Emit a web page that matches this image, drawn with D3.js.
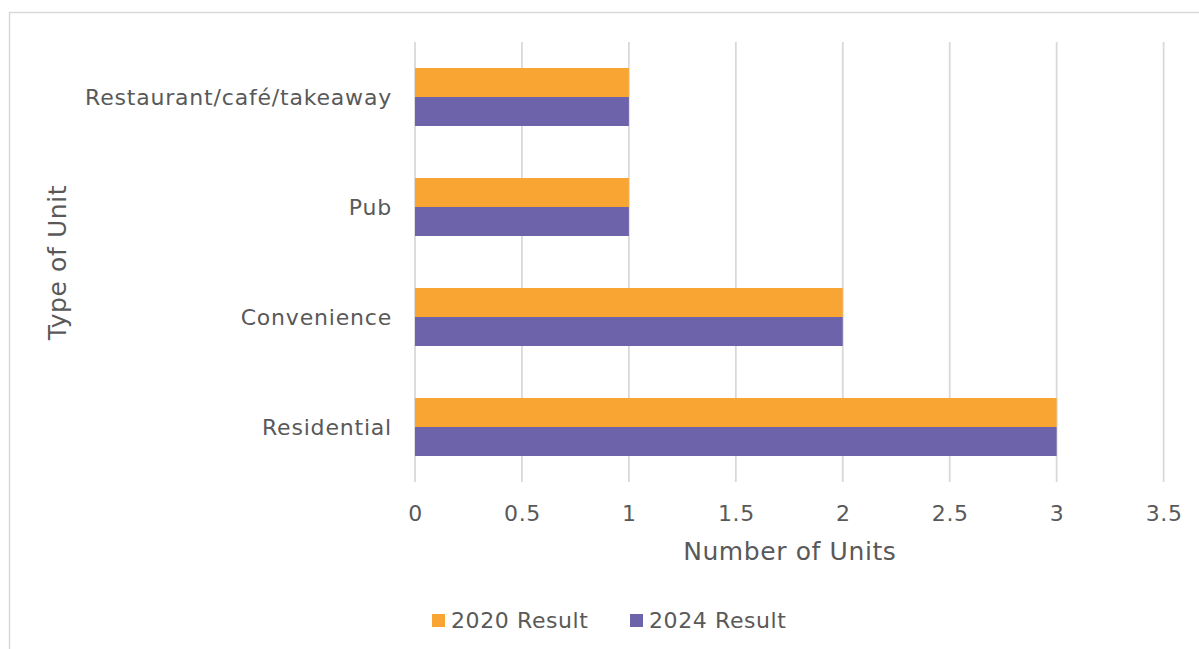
<!DOCTYPE html>
<html>
<head>
<meta charset="utf-8">
<script src="https://cdn.jsdelivr.net/npm/d3@7"></script>
<style>
  html, body { margin: 0; padding: 0; background: #ffffff; }
  svg { display: block; }
  text { font-family: "DejaVu Sans", sans-serif; fill: #595959; letter-spacing: 0.6px; }
</style>
</head>
<body>
<svg id="chart" width="1199" height="649"></svg>
<script>
// Categories listed top to bottom
const categories = ["Restaurant/café/takeaway", "Pub", "Convenience", "Residential"];
const seriesNames = ["2020 Result", "2024 Result"];
const values2020 = [1, 1, 2, 3];
const values2024 = [1, 1, 2, 3];
const xTicks = [0, 0.5, 1, 1.5, 2, 2.5, 3, 3.5];
const seriesColors = ["#F9A534", "#6D63AB"];

const svg = d3.select("#chart");
const W = 1199, H = 649;

// Outer chart frame (runs off the right and bottom edges)
svg.append("rect")
  .attr("x", 9.5).attr("y", 12.5)
  .attr("width", W + 20).attr("height", H + 20)
  .attr("fill", "#ffffff")
  .attr("stroke", "#d9d9d9").attr("stroke-width", 1.5);

const plot = { left: 415, right: 1163.6, top: 42, bottom: 482 };

const x = d3.scaleLinear().domain([0, 3.5]).range([plot.left, plot.right]);
const y = d3.scaleBand().domain(categories)
  .range([plot.top, plot.bottom])
  .paddingInner(0.4727).paddingOuter(0.4727 / 2);
const ySub = d3.scaleBand().domain(seriesNames).range([0, y.bandwidth()]);
const color = d3.scaleOrdinal().domain(seriesNames).range(seriesColors);

// Vertical gridlines
svg.append("g").selectAll("line").data(xTicks).join("line")
  .attr("x1", d => x(d)).attr("x2", d => x(d))
  .attr("y1", plot.top).attr("y2", plot.bottom)
  .attr("stroke", "#d9d9d9").attr("stroke-width", 1.8);

// Bars
const rows = categories.map((c, i) => ({ cat: c, vals: [values2020[i], values2024[i]] }));
const groups = svg.append("g").selectAll("g").data(rows).join("g")
  .attr("transform", d => `translate(0,${y(d.cat)})`);
groups.selectAll("rect")
  .data(d => d.vals.map((v, j) => ({ series: seriesNames[j], value: v })))
  .join("rect")
  .attr("x", x(0))
  .attr("y", d => ySub(d.series))
  .attr("width", d => x(d.value) - x(0))
  .attr("height", ySub.bandwidth())
  .attr("fill", d => color(d.series));

// X axis tick labels
const xAxis = d3.axisBottom(x).tickValues(xTicks).tickSize(0).tickPadding(0)
  .tickFormat(d3.format("~g"));
const gx = svg.append("g").attr("transform", `translate(0,${plot.bottom})`).call(xAxis);
gx.select(".domain").remove();
gx.selectAll("text")
  .attr("y", 39).attr("dy", null)
  .style("font-size", "22px").style("font-family", "DejaVu Sans, sans-serif")
  .attr("fill", "#595959");

// Y axis category labels
const yAxis = d3.axisLeft(y).tickSize(0).tickPadding(0);
const gy = svg.append("g").attr("transform", `translate(392,0)`).call(yAxis);
gy.select(".domain").remove();
gy.selectAll("text")
  .attr("x", 0).attr("dy", "0.36em")
  .style("font-size", "22px").style("font-family", "DejaVu Sans, sans-serif")
  .style("letter-spacing", "0.8px")
  .attr("fill", "#595959");

// Axis titles
svg.append("text")
  .attr("x", (plot.left + plot.right) / 2 + 0.5).attr("y", 560)
  .attr("text-anchor", "middle")
  .style("font-size", "25px")
  .text("Number of Units");

svg.append("text")
  .attr("transform", "translate(66,262.5) rotate(-90)")
  .attr("text-anchor", "middle")
  .style("font-size", "25px")
  .text("Type of Unit");

// Legend
const legendX = [432, 630];
const legend = svg.append("g").selectAll("g").data(seriesNames).join("g")
  .attr("transform", (d, i) => `translate(${legendX[i]},614)`);
legend.append("rect").attr("width", 13).attr("height", 13).attr("fill", d => color(d));
legend.append("text").attr("x", 19).attr("y", 14)
  .style("font-size", "22px")
  .text(d => d);
</script>
</body>
</html>
